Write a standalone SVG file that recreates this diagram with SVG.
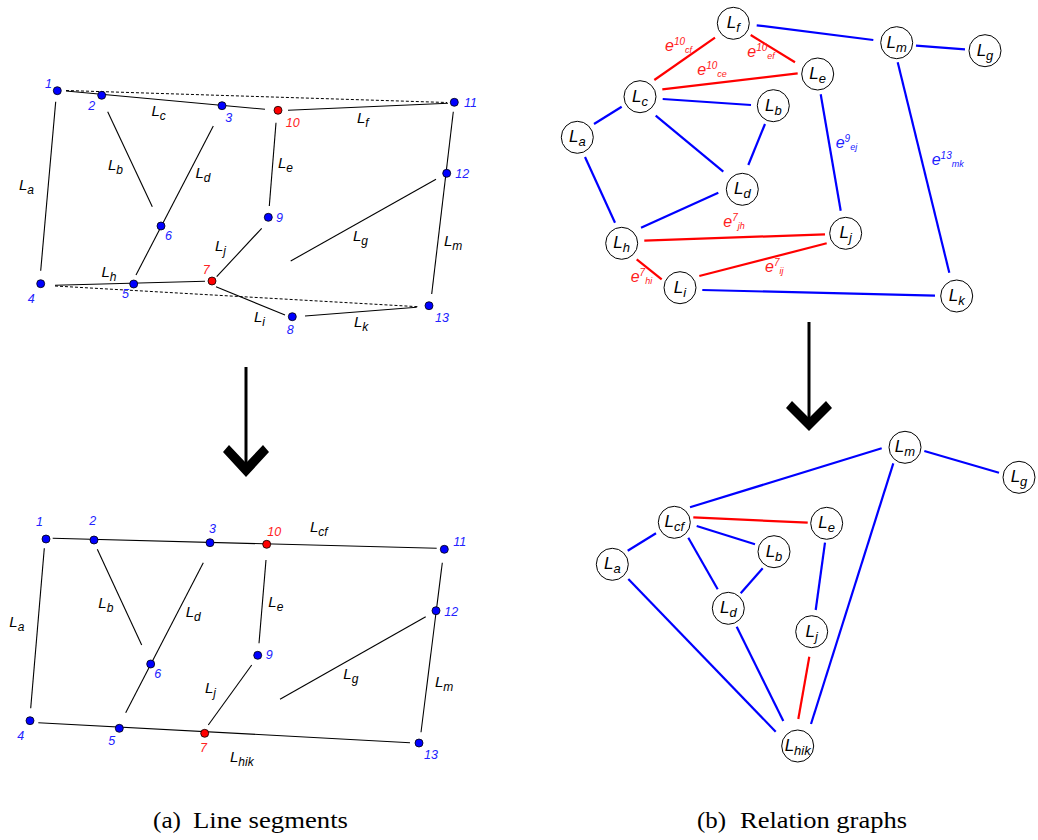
<svg xmlns="http://www.w3.org/2000/svg" width="1038" height="840" viewBox="0 0 1038 840">
<style>
.seg{stroke:#000;stroke-width:1.1;fill:none}
.dash{stroke:#000;stroke-width:1;stroke-dasharray:3 2;fill:none}
.pb{fill:#0000ff;stroke:#000;stroke-width:0.8}
.pr{fill:#ff0000;stroke:#000;stroke-width:0.8}
.num{font-family:"Liberation Sans",Arial,sans-serif;font-style:italic;font-size:12.5px;fill:#2222ff}
.numr{fill:#ff2222}
.lab{font-family:"Liberation Sans",Arial,sans-serif;font-style:italic;font-size:15px;fill:#000}
.eb{stroke:#0000ff;stroke-width:2.2;fill:none}
.er{stroke:#ff0000;stroke-width:2.2;fill:none}
.node circle{fill:#fff;stroke:#000;stroke-width:1}
.nl{font-family:"Liberation Sans",Arial,sans-serif;font-style:italic;font-size:17px;fill:#000;text-anchor:middle}
.el{font-family:"Liberation Sans",Arial,sans-serif;font-style:italic;font-size:16px}
.elr{fill:#ff2020}
.elb{fill:#2020ff}
.cap{font-family:"Liberation Serif","Times New Roman",serif;font-size:24px;fill:#000}
.shaft{stroke:#000;stroke-width:3}
</style>
<rect width="1038" height="840" fill="#fff"/>

<!-- ===== Top-left: line segments ===== -->
<g id="segments-top">
<line class="dash" x1="66" y1="90.5" x2="447" y2="102.5"/>
<line class="dash" x1="55" y1="286" x2="418" y2="306.7"/>
<line class="seg" x1="66" y1="91" x2="265" y2="109.3"/>
<line class="seg" x1="288" y1="110.3" x2="448" y2="103.3"/>
<line class="seg" x1="55.7" y1="101.7" x2="40.7" y2="270.7"/>
<line class="seg" x1="107.7" y1="111.7" x2="152.3" y2="206.7"/>
<line class="seg" x1="213.3" y1="126" x2="136" y2="275"/>
<line class="seg" x1="276" y1="122.7" x2="269.3" y2="206"/>
<line class="seg" x1="216.7" y1="276.7" x2="261.7" y2="228.3"/>
<line class="seg" x1="436" y1="179.3" x2="290.7" y2="261"/>
<line class="seg" x1="453.3" y1="111.7" x2="431.7" y2="294"/>
<line class="seg" x1="55" y1="285.3" x2="205" y2="281.3"/>
<line class="seg" x1="216" y1="286.7" x2="285" y2="315"/>
<line class="seg" x1="305" y1="316" x2="416.7" y2="307.3"/>
</g>
<g id="seg-labels-top">
<text class="lab" x="19" y="190">L<tspan dy="4" font-size="12">a</tspan></text>
<text class="lab" x="151.5" y="116">L<tspan dy="4" font-size="12">c</tspan></text>
<text class="lab" x="108" y="170">L<tspan dy="4" font-size="12">b</tspan></text>
<text class="lab" x="195.5" y="178">L<tspan dy="4" font-size="12">d</tspan></text>
<text class="lab" x="357" y="123">L<tspan dy="4" font-size="12">f</tspan></text>
<text class="lab" x="278" y="168">L<tspan dy="4" font-size="12">e</tspan></text>
<text class="lab" x="101.5" y="277">L<tspan dy="4" font-size="12">h</tspan></text>
<text class="lab" x="215" y="250.5">L<tspan dy="4" font-size="12">j</tspan></text>
<text class="lab" x="353" y="240.5">L<tspan dy="4" font-size="12">g</tspan></text>
<text class="lab" x="444" y="246">L<tspan dy="4" font-size="12">m</tspan></text>
<text class="lab" x="254" y="321.5">L<tspan dy="4" font-size="12">i</tspan></text>
<text class="lab" x="354" y="327">L<tspan dy="4" font-size="12">k</tspan></text>
</g>
<g id="p1"><circle class="pb" cx="57.3" cy="90.7" r="4"/><text class="num" x="45" y="88">1</text></g>
<g id="p2"><circle class="pb" cx="101.7" cy="95.3" r="4"/><text class="num" x="88.3" y="110">2</text></g>
<g id="p3"><circle class="pb" cx="222" cy="105.7" r="4"/><text class="num" x="225.3" y="122.3">3</text></g>
<g id="p10"><circle class="pr" cx="278" cy="110.3" r="4"/><text class="num numr" x="285.7" y="126.7">10</text></g>
<g id="p11"><circle class="pb" cx="454.3" cy="102.3" r="4"/><text class="num" x="464" y="107">11</text></g>
<g id="p12"><circle class="pb" cx="446.7" cy="173.3" r="4"/><text class="num" x="455.3" y="177.7">12</text></g>
<g id="p6"><circle class="pb" cx="161" cy="226" r="4"/><text class="num" x="165" y="240">6</text></g>
<g id="p9"><circle class="pb" cx="268.3" cy="217.3" r="4"/><text class="num" x="276" y="221.7">9</text></g>
<g id="p4"><circle class="pb" cx="40.7" cy="283.7" r="4"/><text class="num" x="27.7" y="302.7">4</text></g>
<g id="p5"><circle class="pb" cx="133.7" cy="284" r="4"/><text class="num" x="122" y="297.7">5</text></g>
<g id="p7"><circle class="pr" cx="212" cy="281" r="4"/><text class="num numr" x="202.7" y="274">7</text></g>
<g id="p8"><circle class="pb" cx="292.3" cy="316.7" r="4"/><text class="num" x="286.7" y="334.3">8</text></g>
<g id="p13"><circle class="pb" cx="429" cy="305.7" r="4"/><text class="num" x="435" y="321.7">13</text></g>

<!-- ===== Bottom-left: line segments after merge ===== -->
<g id="segments-bottom">
<line class="seg" x1="52.7" y1="538.3" x2="436.7" y2="548.3"/>
<line class="seg" x1="44.3" y1="548.3" x2="30.7" y2="708.3"/>
<line class="seg" x1="97.3" y1="549.3" x2="141.7" y2="645"/>
<line class="seg" x1="203.3" y1="562.7" x2="125.7" y2="712.7"/>
<line class="seg" x1="266" y1="560" x2="259" y2="643.3"/>
<line class="seg" x1="208.3" y1="725" x2="251.7" y2="665"/>
<line class="seg" x1="425.7" y1="616.7" x2="280" y2="699.3"/>
<line class="seg" x1="442.3" y1="562.7" x2="421" y2="732.3"/>
<line class="seg" x1="38.3" y1="722.7" x2="410" y2="742.7"/>
</g>
<g id="seg-labels-bottom">
<text class="lab" x="9.3" y="627.3">L<tspan dy="4" font-size="12">a</tspan></text>
<text class="lab" x="98.3" y="608.3">L<tspan dy="4" font-size="12">b</tspan></text>
<text class="lab" x="185.7" y="616.7">L<tspan dy="4" font-size="12">d</tspan></text>
<text class="lab" x="205" y="693.3">L<tspan dy="4" font-size="12">j</tspan></text>
<text class="lab" x="230" y="761.7">L<tspan dy="4" font-size="12">hik</tspan></text>
<text class="lab" x="310" y="531.7">L<tspan dy="4" font-size="12">cf</tspan></text>
<text class="lab" x="268.3" y="606.7">L<tspan dy="4" font-size="12">e</tspan></text>
<text class="lab" x="343.3" y="679">L<tspan dy="4" font-size="12">g</tspan></text>
<text class="lab" x="435" y="686.7">L<tspan dy="4" font-size="12">m</tspan></text>
</g>
<g id="q1"><circle class="pb" cx="46" cy="539" r="4"/><text class="num" x="36" y="526">1</text></g>
<g id="q2"><circle class="pb" cx="94" cy="540" r="4"/><text class="num" x="89.3" y="525">2</text></g>
<g id="q3"><circle class="pb" cx="210" cy="542.7" r="4"/><text class="num" x="209" y="533.3">3</text></g>
<g id="q10"><circle class="pr" cx="266.7" cy="544.3" r="4"/><text class="num numr" x="267.3" y="535.7">10</text></g>
<g id="q11"><circle class="pb" cx="444.3" cy="549.3" r="4"/><text class="num" x="453.3" y="545.7">11</text></g>
<g id="q12"><circle class="pb" cx="436" cy="610.7" r="4"/><text class="num" x="444.3" y="615.7">12</text></g>
<g id="q9"><circle class="pb" cx="257.7" cy="655.3" r="4"/><text class="num" x="265.7" y="659.3">9</text></g>
<g id="q6"><circle class="pb" cx="150.7" cy="664" r="4"/><text class="num" x="154.3" y="677.7">6</text></g>
<g id="q4"><circle class="pb" cx="30" cy="720.7" r="4"/><text class="num" x="17.3" y="740">4</text></g>
<g id="q5"><circle class="pb" cx="119.3" cy="728.3" r="4"/><text class="num" x="108.3" y="745">5</text></g>
<g id="q7"><circle class="pr" cx="204.7" cy="733.3" r="4"/><text class="num numr" x="200" y="751.7">7</text></g>
<g id="q13"><circle class="pb" cx="419" cy="743" r="4"/><text class="num" x="424" y="759">13</text></g>

<!-- ===== Arrows ===== -->
<g id="arrow-left">
<line class="shaft" x1="246" y1="367" x2="246" y2="468"/>
<polygon points="223,452 229,445 246,463 263,445 269,452 246,477" fill="#000"/>
</g>
<g id="arrow-right">
<line class="shaft" x1="809" y1="322" x2="809" y2="422"/>
<polygon points="786,408 792,401 809,418 826,401 832,408 809,431" fill="#000"/>
</g>

<!-- ===== Top-right: relation graph ===== -->
<g id="edges-top">
<line class="er" x1="654.3" y1="80" x2="715" y2="37.7"/>
<line class="er" x1="750.7" y1="35" x2="795" y2="62.3"/>
<line class="er" x1="662.3" y1="89.3" x2="797.7" y2="73.3"/>
<line class="eb" x1="756.7" y1="25.3" x2="873.3" y2="40"/>
<line class="eb" x1="916" y1="45.7" x2="965" y2="49.3"/>
<line class="eb" x1="662.7" y1="99" x2="751" y2="105"/>
<line class="eb" x1="621.7" y1="106.7" x2="594" y2="124"/>
<line class="eb" x1="655.7" y1="115.7" x2="723.3" y2="171.7"/>
<line class="eb" x1="765" y1="124" x2="748.3" y2="165"/>
<line class="eb" x1="585" y1="157" x2="615" y2="222.7"/>
<line class="eb" x1="641" y1="227.7" x2="718.3" y2="192.7"/>
<line class="er" x1="644.3" y1="240.7" x2="825" y2="234.3"/>
<line class="er" x1="699.3" y1="276" x2="826.7" y2="243.3"/>
<line class="er" x1="636.7" y1="259.3" x2="661.7" y2="279.3"/>
<line class="eb" x1="702.3" y1="290" x2="935" y2="295.7"/>
<line class="eb" x1="820.7" y1="94.3" x2="840.7" y2="210.7"/>
<line class="eb" x1="897.7" y1="62.3" x2="949.3" y2="272.7"/>
</g>
<g id="edge-labels-top">
<text class="el elr" x="665" y="51">e<tspan dy="-6" font-size="10">10</tspan><tspan dy="8" font-size="9">cf</tspan></text>
<text class="el elr" x="747.3" y="57">e<tspan dy="-6" font-size="10">10</tspan><tspan dy="8" font-size="9">ef</tspan></text>
<text class="el elr" x="697.3" y="75">e<tspan dy="-6" font-size="10">10</tspan><tspan dy="8" font-size="9">ce</tspan></text>
<text class="el elb" x="835.7" y="148.3">e<tspan dy="-6" font-size="10">9</tspan><tspan dy="8" font-size="9">ej</tspan></text>
<text class="el elb" x="931.7" y="165">e<tspan dy="-6" font-size="10">13</tspan><tspan dy="8" font-size="9">mk</tspan></text>
<text class="el elr" x="723.3" y="227.3">e<tspan dy="-6" font-size="10">7</tspan><tspan dy="8" font-size="9">jh</tspan></text>
<text class="el elr" x="765" y="271.7">e<tspan dy="-6" font-size="10">7</tspan><tspan dy="8" font-size="9">ij</tspan></text>
<text class="el elr" x="630.7" y="281.7">e<tspan dy="-6" font-size="10">7</tspan><tspan dy="8" font-size="9">hi</tspan></text>
</g>
<g id="t-Lf" class="node"><circle cx="733.3" cy="23.3" r="16"/><text class="nl" x="733.3" y="28.3">L<tspan dy="4" font-size="13">f</tspan></text></g>
<g id="t-Lc" class="node"><circle cx="640" cy="96.7" r="16"/><text class="nl" x="640" y="101.7">L<tspan dy="4" font-size="13">c</tspan></text></g>
<g id="t-Lb" class="node"><circle cx="773.3" cy="105.7" r="16"/><text class="nl" x="773.3" y="110.7">L<tspan dy="4" font-size="13">b</tspan></text></g>
<g id="t-La" class="node"><circle cx="577.3" cy="137.3" r="16"/><text class="nl" x="577.3" y="142.3">L<tspan dy="4" font-size="13">a</tspan></text></g>
<g id="t-Lm" class="node"><circle cx="896.7" cy="42.7" r="16"/><text class="nl" x="896.7" y="47.7">L<tspan dy="4" font-size="13">m</tspan></text></g>
<g id="t-Lg" class="node"><circle cx="985" cy="50.7" r="16"/><text class="nl" x="985" y="55.7">L<tspan dy="4" font-size="13">g</tspan></text></g>
<g id="t-Le" class="node"><circle cx="817.7" cy="74" r="16"/><text class="nl" x="817.7" y="79">L<tspan dy="4" font-size="13">e</tspan></text></g>
<g id="t-Lj" class="node"><circle cx="845.7" cy="233.3" r="16"/><text class="nl" x="845.7" y="238.3">L<tspan dy="4" font-size="13">j</tspan></text></g>
<g id="t-Lk" class="node"><circle cx="956.7" cy="296" r="16"/><text class="nl" x="956.7" y="301">L<tspan dy="4" font-size="13">k</tspan></text></g>
<g id="t-Ld" class="node"><circle cx="742.3" cy="189.3" r="16"/><text class="nl" x="742.3" y="194.3">L<tspan dy="4" font-size="13">d</tspan></text></g>
<g id="t-Lh" class="node"><circle cx="621.7" cy="243.3" r="16"/><text class="nl" x="621.7" y="248.3">L<tspan dy="4" font-size="13">h</tspan></text></g>
<g id="t-Li" class="node"><circle cx="680" cy="287.7" r="16"/><text class="nl" x="680" y="292.7">L<tspan dy="4" font-size="13">i</tspan></text></g>

<!-- ===== Bottom-right: merged relation graph ===== -->
<g id="edges-bottom">
<line class="eb" x1="690" y1="507.3" x2="881.7" y2="448.3"/>
<line class="eb" x1="924.3" y1="451" x2="999" y2="472.7"/>
<line class="er" x1="693.3" y1="517.3" x2="807.7" y2="522.7"/>
<line class="eb" x1="656" y1="533.3" x2="627.7" y2="550.7"/>
<line class="eb" x1="696.7" y1="526" x2="755" y2="544.3"/>
<line class="eb" x1="688.3" y1="537.7" x2="717.7" y2="589.3"/>
<line class="eb" x1="762.7" y1="568.3" x2="740.7" y2="593.3"/>
<line class="eb" x1="628.3" y1="579" x2="775.7" y2="731.7"/>
<line class="eb" x1="736.7" y1="626.7" x2="783.3" y2="721"/>
<line class="eb" x1="825" y1="542.7" x2="815.7" y2="610"/>
<line class="er" x1="809.3" y1="656.7" x2="798.3" y2="719"/>
<line class="eb" x1="893.3" y1="463.3" x2="811" y2="724"/>
</g>
<g id="b-Lcf" class="node"><circle cx="674.3" cy="522.3" r="16"/><text class="nl" x="674.3" y="527.3">L<tspan dy="4" font-size="13">cf</tspan></text></g>
<g id="b-La" class="node"><circle cx="612.3" cy="564.3" r="16"/><text class="nl" x="612.3" y="569.3">L<tspan dy="4" font-size="13">a</tspan></text></g>
<g id="b-Lb" class="node"><circle cx="774" cy="551.7" r="16"/><text class="nl" x="774" y="556.7">L<tspan dy="4" font-size="13">b</tspan></text></g>
<g id="b-Le" class="node"><circle cx="826.7" cy="523.3" r="16"/><text class="nl" x="826.7" y="528.3">L<tspan dy="4" font-size="13">e</tspan></text></g>
<g id="b-Ld" class="node"><circle cx="728.3" cy="608.3" r="16"/><text class="nl" x="728.3" y="613.3">L<tspan dy="4" font-size="13">d</tspan></text></g>
<g id="b-Lj" class="node"><circle cx="811.7" cy="631.7" r="16"/><text class="nl" x="811.7" y="636.7">L<tspan dy="4" font-size="13">j</tspan></text></g>
<g id="b-Lhik" class="node"><circle cx="797.7" cy="746" r="16"/><text class="nl" x="797.7" y="751">L<tspan dy="4" font-size="13">hik</tspan></text></g>
<g id="b-Lm" class="node"><circle cx="905" cy="447.3" r="16"/><text class="nl" x="905" y="452.3">L<tspan dy="4" font-size="13">m</tspan></text></g>
<g id="b-Lg" class="node"><circle cx="1019" cy="477.3" r="16"/><text class="nl" x="1019" y="482.3">L<tspan dy="4" font-size="13">g</tspan></text></g>

<!-- ===== Captions ===== -->
<g id="captions">
<text class="cap" x="153" y="828" textLength="28" lengthAdjust="spacingAndGlyphs">(a)</text>
<text class="cap" x="193" y="828" textLength="155" lengthAdjust="spacingAndGlyphs">Line segments</text>
<text class="cap" x="697" y="828" textLength="29" lengthAdjust="spacingAndGlyphs">(b)</text>
<text class="cap" x="740" y="828" textLength="167" lengthAdjust="spacingAndGlyphs">Relation graphs</text>
</g>
</svg>
